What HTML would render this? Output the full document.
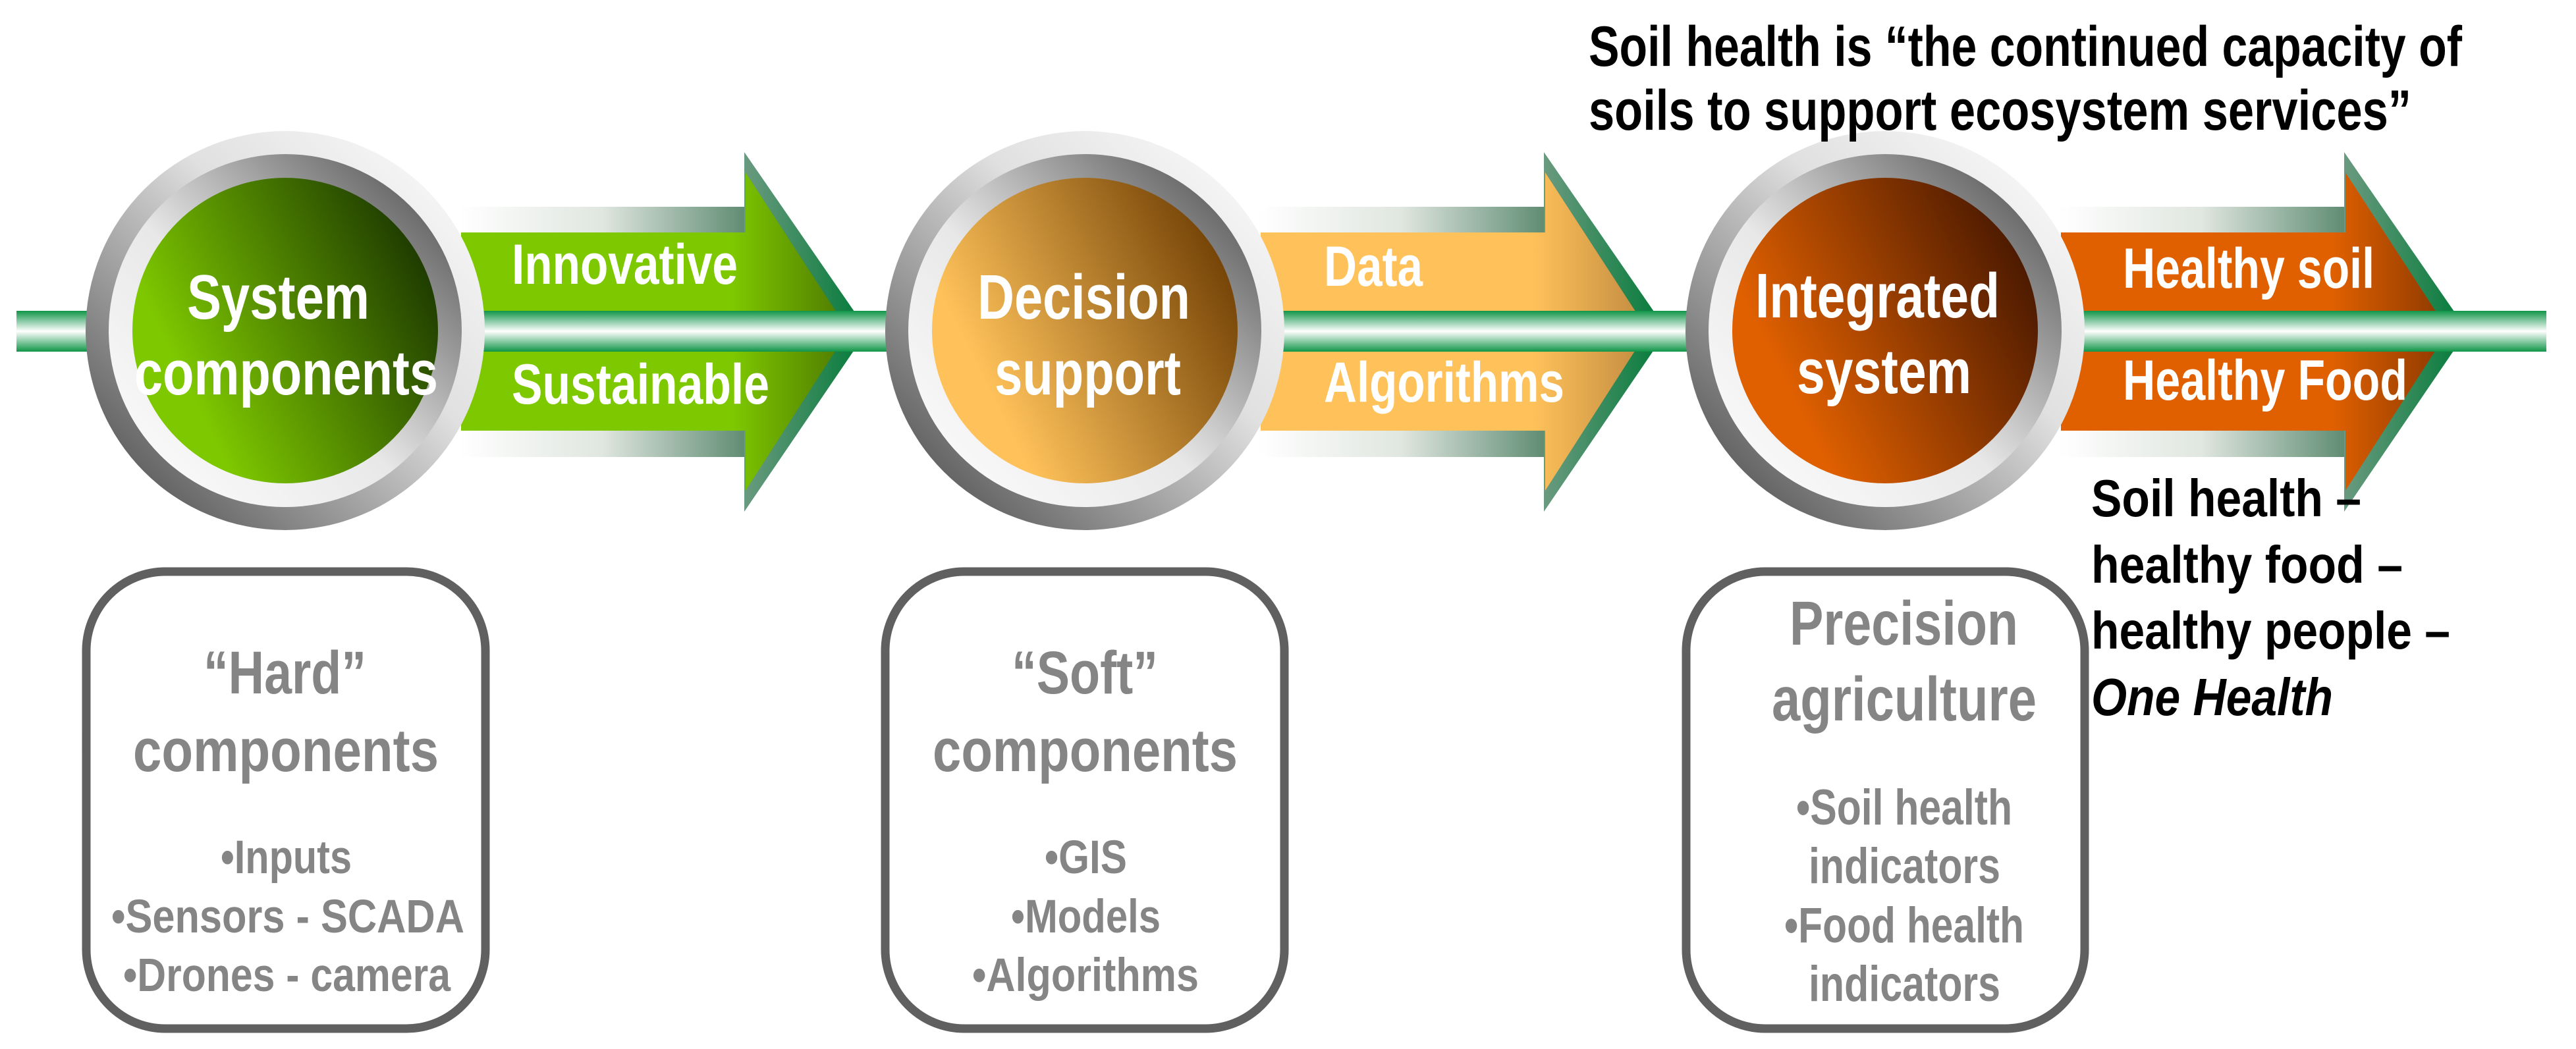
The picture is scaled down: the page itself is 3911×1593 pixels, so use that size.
<!DOCTYPE html>
<html><head><meta charset="utf-8">
<style>html,body{margin:0;padding:0;background:#fff;}svg{display:block;}
text{font-family:"Liberation Sans",Arial,sans-serif;font-weight:bold;}</style></head>
<body>
<svg width="3911" height="1593" viewBox="0 0 3911 1593" xmlns="http://www.w3.org/2000/svg">
<defs>
<linearGradient id="bar" x1="0" y1="0" x2="0" y2="1">
<stop offset="0" stop-color="#109548"/><stop offset="0.5" stop-color="#ffffff"/><stop offset="1" stop-color="#109548"/></linearGradient>
<linearGradient id="shade" x1="0" y1="0" x2="1" y2="0">
<stop offset="0" stop-color="#ffffff"/><stop offset="0.5" stop-color="#e0e6e0"/><stop offset="1" stop-color="#5f8c72"/></linearGradient>
<linearGradient id="edge" x1="0" y1="0" x2="1" y2="0">
<stop offset="0" stop-color="#6a9a80"/><stop offset="1" stop-color="#007a36"/></linearGradient>
<linearGradient id="h1" x1="0" y1="0" x2="1" y2="0">
<stop offset="0" stop-color="#7ec800"/><stop offset="0.7" stop-color="#7ec800"/><stop offset="1" stop-color="#4e7800"/></linearGradient>
<linearGradient id="h2" x1="0" y1="0" x2="1" y2="0">
<stop offset="0" stop-color="#ffc25a"/><stop offset="0.7" stop-color="#ffc25a"/><stop offset="1" stop-color="#c08a40"/></linearGradient>
<linearGradient id="h3" x1="0" y1="0" x2="1" y2="0">
<stop offset="0" stop-color="#e06000"/><stop offset="0.7" stop-color="#e06000"/><stop offset="1" stop-color="#8a3800"/></linearGradient>
<linearGradient id="ringO" x1="1" y1="0" x2="0" y2="1">
<stop offset="0" stop-color="#ffffff"/><stop offset="0.4" stop-color="#e0e0e0"/><stop offset="1" stop-color="#3e3e3e"/></linearGradient>
<linearGradient id="ringI" x1="0" y1="1" x2="1" y2="0">
<stop offset="0" stop-color="#ffffff"/><stop offset="0.45" stop-color="#e8e8e8"/><stop offset="1" stop-color="#404040"/></linearGradient>
<linearGradient id="f1" x1="0" y1="0.7" x2="1" y2="0.2">
<stop offset="0.15" stop-color="#7ec800"/><stop offset="1" stop-color="#163000"/></linearGradient>
<linearGradient id="f2" x1="0" y1="0.7" x2="1" y2="0.2">
<stop offset="0.15" stop-color="#ffc25a"/><stop offset="1" stop-color="#6a3a00"/></linearGradient>
<linearGradient id="f3" x1="0" y1="0.7" x2="1" y2="0.2">
<stop offset="0.15" stop-color="#e06000"/><stop offset="1" stop-color="#401400"/></linearGradient>
</defs>

<g>
<rect x="696" y="314" width="436" height="40" fill="url(#shade)"/>
<rect x="696" y="654" width="436" height="40" fill="url(#shade)"/>
<polygon points="1130,231 1317,502 1130,777" fill="url(#edge)"/>
<polygon points="700,353 1132,353 1132,262 1288,502 1132,745 1132,654 700,654" fill="url(#h1)"/>
</g>
<g transform="translate(1214,0)">
<rect x="696" y="314" width="436" height="40" fill="url(#shade)"/>
<rect x="696" y="654" width="436" height="40" fill="url(#shade)"/>
<polygon points="1130,231 1317,502 1130,777" fill="url(#edge)"/>
<polygon points="700,353 1132,353 1132,262 1288,502 1132,745 1132,654 700,654" fill="url(#h2)"/>
</g>
<g transform="translate(2429,0)">
<rect x="696" y="314" width="436" height="40" fill="url(#shade)"/>
<rect x="696" y="654" width="436" height="40" fill="url(#shade)"/>
<polygon points="1130,231 1317,502 1130,777" fill="url(#edge)"/>
<polygon points="700,353 1132,353 1132,262 1288,502 1132,745 1132,654 700,654" fill="url(#h3)"/>
</g>

<rect x="25" y="472" width="3841" height="62" fill="url(#bar)"/>

<g>
<circle cx="433" cy="502" r="303" fill="url(#ringO)"/>
<circle cx="433" cy="502" r="268" fill="url(#ringI)"/>
<circle cx="433" cy="502" r="232" fill="url(#f1)"/>
<circle cx="1647" cy="502" r="303" fill="url(#ringO)"/>
<circle cx="1647" cy="502" r="268" fill="url(#ringI)"/>
<circle cx="1647" cy="502" r="232" fill="url(#f2)"/>
<circle cx="2862" cy="502" r="303" fill="url(#ringO)"/>
<circle cx="2862" cy="502" r="268" fill="url(#ringI)"/>
<circle cx="2862" cy="502" r="232" fill="url(#f3)"/>
</g>

<g fill="#fff" font-size="96">
<text x="284" y="484" textLength="277" lengthAdjust="spacingAndGlyphs">System</text>
<text x="204" y="599" textLength="461" lengthAdjust="spacingAndGlyphs">components</text>
<text x="1484" y="484" textLength="323" lengthAdjust="spacingAndGlyphs">Decision</text>
<text x="1510" y="599" textLength="283" lengthAdjust="spacingAndGlyphs">support</text>
<text x="2665" y="482" textLength="371" lengthAdjust="spacingAndGlyphs">Integrated</text>
<text x="2728" y="597" textLength="265" lengthAdjust="spacingAndGlyphs">system</text>
</g>

<g fill="#fff" font-size="86">
<text x="777" y="431" textLength="343" lengthAdjust="spacingAndGlyphs">Innovative</text>
<text x="777" y="613" textLength="391" lengthAdjust="spacingAndGlyphs">Sustainable</text>
<text x="2010" y="434" textLength="150" lengthAdjust="spacingAndGlyphs">Data</text>
<text x="2010" y="610" textLength="365" lengthAdjust="spacingAndGlyphs">Algorithms</text>
<text x="3223" y="437" textLength="382" lengthAdjust="spacingAndGlyphs">Healthy soil</text>
<text x="3223" y="607" textLength="432" lengthAdjust="spacingAndGlyphs">Healthy Food</text>
</g>

<g fill="#000" font-size="86">
<text x="2412" y="100" textLength="1326" lengthAdjust="spacingAndGlyphs">Soil health is “the continued capacity of</text>
<text x="2412" y="197" textLength="1249" lengthAdjust="spacingAndGlyphs">soils to support  ecosystem services”</text>
</g>

<g fill="#000" font-size="80">
<text x="3175" y="784" textLength="410" lengthAdjust="spacingAndGlyphs">Soil health –</text>
<text x="3175" y="885" textLength="473" lengthAdjust="spacingAndGlyphs">healthy food –</text>
<text x="3175" y="985" textLength="545" lengthAdjust="spacingAndGlyphs">healthy people –</text>
<text x="3175" y="1086" textLength="367" lengthAdjust="spacingAndGlyphs" font-style="italic">One Health</text>
</g>

<g fill="none" stroke="#606060" stroke-width="13">
<rect x="131" y="868" width="606" height="694" rx="120" ry="120"/>
<rect x="1344" y="868" width="606" height="694" rx="120" ry="120"/>
<rect x="2560" y="868" width="605" height="694" rx="120" ry="120"/>
</g>
<g fill="#858585">
<text x="309" y="1053" font-size="92" textLength="247" lengthAdjust="spacingAndGlyphs">“Hard”</text>
<text x="202" y="1171" font-size="92" textLength="464" lengthAdjust="spacingAndGlyphs">components</text>
<text x="335" y="1326" font-size="71" textLength="199" lengthAdjust="spacingAndGlyphs">•Inputs</text>
<text x="169" y="1416" font-size="71" textLength="536" lengthAdjust="spacingAndGlyphs">•Sensors - SCADA</text>
<text x="187" y="1505" font-size="71" textLength="497" lengthAdjust="spacingAndGlyphs">•Drones - camera</text>

<text x="1536" y="1053" font-size="92" textLength="222" lengthAdjust="spacingAndGlyphs">“Soft”</text>
<text x="1416" y="1171" font-size="92" textLength="463" lengthAdjust="spacingAndGlyphs">components</text>
<text x="1586" y="1326" font-size="71" textLength="125" lengthAdjust="spacingAndGlyphs">•GIS</text>
<text x="1535" y="1416" font-size="71" textLength="227" lengthAdjust="spacingAndGlyphs">•Models</text>
<text x="1476" y="1505" font-size="71" textLength="344" lengthAdjust="spacingAndGlyphs">•Algorithms</text>

<text x="2717" y="979" font-size="95" textLength="347" lengthAdjust="spacingAndGlyphs">Precision</text>
<text x="2690" y="1094" font-size="95" textLength="402" lengthAdjust="spacingAndGlyphs">agriculture</text>
<text x="2727" y="1252" font-size="76" textLength="328" lengthAdjust="spacingAndGlyphs">•Soil health</text>
<text x="2746" y="1341" font-size="76" textLength="291" lengthAdjust="spacingAndGlyphs">indicators</text>
<text x="2709" y="1431" font-size="76" textLength="364" lengthAdjust="spacingAndGlyphs">•Food health</text>
<text x="2746" y="1520" font-size="76" textLength="291" lengthAdjust="spacingAndGlyphs">indicators</text>
</g>
</svg>
</body></html>
